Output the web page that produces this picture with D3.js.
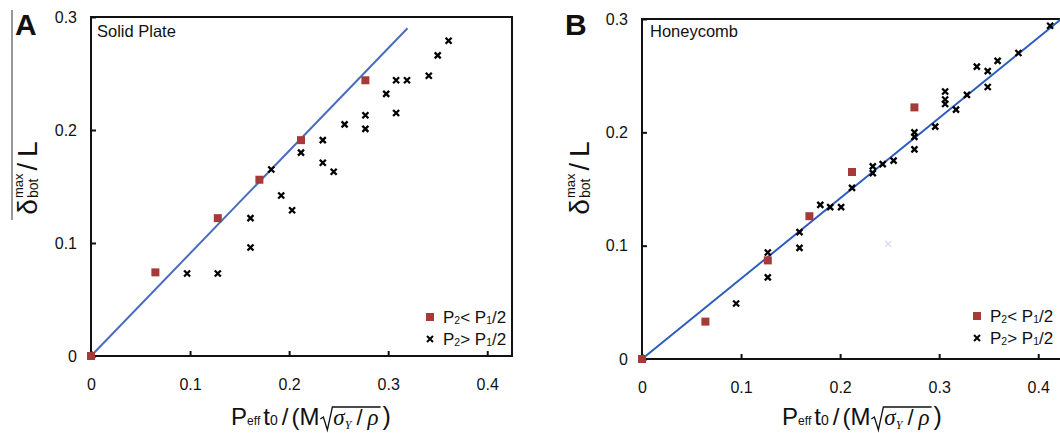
<!DOCTYPE html>
<html><head><meta charset="utf-8">
<script src="https://cdn.jsdelivr.net/npm/d3@7"></script>
<style>
body{margin:0;background:#fff}
svg{display:block}
text{font-family:"Liberation Sans",Arial,sans-serif;fill:#111}
</style>
</head><body>
<svg id="c" width="1060" height="433"></svg>
<script>
// ---- data ----
const xTicks = [0, 0.1, 0.2, 0.3, 0.4];
const yTicks = [0, 0.1, 0.2, 0.3];
const panelLetters = ["A", "B"];
const panelTitles = ["Solid Plate", "Honeycomb"];
const legendLabels = [["P", "2", "< P", "1", "/2"], ["P", "2", "> P", "1", "/2"]];

const solidLow = [[0,0],[0.065,0.074],[0.128,0.122],[0.170,0.156],[0.212,0.191],[0.277,0.244]];
const solidHigh = [[0.097,0.073],[0.128,0.073],[0.161,0.096],[0.161,0.122],[0.182,0.165],[0.192,0.142],
  [0.203,0.129],[0.212,0.180],[0.234,0.191],[0.234,0.171],[0.245,0.163],[0.256,0.205],[0.277,0.213],
  [0.277,0.201],[0.298,0.232],[0.308,0.244],[0.308,0.215],[0.319,0.244],[0.341,0.248],[0.350,0.266],[0.361,0.279]];
const solidFit = [[0,0],[0.3195,0.290]];

const honeyLow = [[0,0],[0.064,0.033],[0.127,0.087],[0.169,0.126],[0.212,0.165],[0.275,0.222]];
const honeyHigh = [[0.095,0.049],[0.127,0.072],[0.127,0.094],[0.159,0.098],[0.159,0.112],[0.180,0.136],
  [0.190,0.134],[0.201,0.134],[0.212,0.151],[0.233,0.170],[0.233,0.164],[0.243,0.172],[0.254,0.175],
  [0.275,0.185],[0.275,0.200],[0.275,0.196],[0.296,0.205],[0.306,0.236],[0.306,0.229],[0.306,0.225],
  [0.317,0.220],[0.328,0.233],[0.338,0.258],[0.349,0.254],[0.349,0.240],[0.359,0.263],[0.380,0.270],[0.412,0.294]];
const honeyFaint = [[0.2485,0.1016]];
const honeyFit = [[0,0],[0.4232,0.300]];

// ---- layout ----
const svg = d3.select("#c");
const layouts = [
  {left:91, right:512, top:17, bottom:356, low:solidLow, high:solidHigh, faint:[], fit:solidFit,
   fitColor:"#4a6cc0", letterX:15, titleX:97, ylabX:37, legX:430, legY:317, artifact:true},
  {left:642, right:1063, top:19, bottom:359, low:honeyLow, high:honeyHigh, faint:honeyFaint, fit:honeyFit,
   fitColor:"#2c5cbd", letterX:565, titleX:650, ylabX:589, legX:977, legY:316, artifact:false}
];
const RED = "#a63a38";
const crossPath = "M-3,-3L3,3M-3,3L3,-3";

function fmt(d){ return d === 0 ? "0" : d3.format(".1f")(d); }

function xLabel(g, cx, baseline){
  const grp = g.append("g");
  let x = 0;
  function add(str, size, o){
    o = o || {};
    const t = grp.append("text").attr("x", x).attr("y", o.dy || 0).style("font-size", size + "px").text(str);
    if (o.italic) t.style("font-style","italic").style("font-family","'Liberation Serif','DejaVu Serif',serif");
    x += t.node().getComputedTextLength();
  }
  add("P",24); add("eff",12); x += 3; add("t",24); add("0",14); x += 4; add("/",24); x += 3; add("(M",24);
  const rx = x + 1;
  x += 14;
  add("σ",23,{italic:true}); add("Υ",12,{dy:4,italic:true}); x += 5; add("/",22); x += 5; add("ρ",23,{italic:true});
  const ex = x + 2;
  grp.append("path").attr("d", `M${rx},-6L${rx+3},-8L${rx+7},5L${rx+12},-18L${ex},-18`)
     .attr("fill","none").attr("stroke","#111").attr("stroke-width",1.3);
  x += 4; add(")",25);
  grp.attr("transform", `translate(${cx - x/2},${baseline})`);
}

function yLabel(g, bx, cy){
  const grp = g.append("g");
  let x = 0;
  function add(str, size, dy, adv){
    const t = grp.append("text").attr("x", x).attr("y", dy).style("font-size", size + "px").text(str);
    const w = t.node().getComputedTextLength();
    if (adv) x += w;
    return w;
  }
  add("δ",28,0,true);
  x += 1;
  const w1 = add("bot",14,1,false);
  const w2 = add("max",13,-14,false);
  x += Math.max(w1,w2) + 3;
  add("/",27,0,true); x += 6;
  add("L",28,0,true);
  grp.attr("transform", `translate(${bx},${cy}) rotate(-90) translate(${-x/2},0)`);
}

layouts.forEach((L, i) => {
  const g = svg.append("g");
  const xs = d3.scaleLinear().domain([0, 0.425]).range([L.left, L.right]);
  const ys = d3.scaleLinear().domain([0, 0.3]).range([L.bottom, L.top]);

  // frame
  g.append("rect").attr("x", L.left).attr("y", L.top).attr("width", L.right - L.left).attr("height", L.bottom - L.top)
    .attr("fill","none").attr("stroke","#111").attr("stroke-width",2);

  // axes
  const xa = g.append("g").attr("transform", `translate(0,${L.bottom})`)
    .call(d3.axisBottom(xs).tickValues(xTicks).tickFormat(fmt).tickSizeInner(-5).tickSizeOuter(0).tickPadding(23));
  const ya = g.append("g").attr("transform", `translate(${L.left},0)`)
    .call(d3.axisLeft(ys).tickValues(yTicks).tickFormat(fmt).tickSizeInner(-5).tickSizeOuter(0).tickPadding(14));
  [xa, ya].forEach(a => {
    a.select(".domain").remove();
    a.selectAll("line").attr("stroke","#111").attr("stroke-width",2);
    a.selectAll("text").style("font-size","16px").style("font-family",'"Liberation Sans",Arial,sans-serif').attr("fill","#111");
  });

  // fit line
  g.append("line").attr("x1", xs(L.fit[0][0])).attr("y1", ys(L.fit[0][1]))
    .attr("x2", xs(L.fit[1][0])).attr("y2", ys(L.fit[1][1]))
    .attr("stroke", L.fitColor).attr("stroke-width", 2);

  // points
  g.selectAll(".hi").data(L.high).enter().append("path").attr("d", crossPath)
    .attr("transform", d => `translate(${xs(d[0])},${ys(d[1])})`)
    .attr("stroke","#000").attr("stroke-width",2.3).attr("fill","none");
  g.selectAll(".fa").data(L.faint).enter().append("path").attr("d", crossPath)
    .attr("transform", d => `translate(${xs(d[0])},${ys(d[1])})`)
    .attr("stroke","#cdd8ee").attr("stroke-width",1.2).attr("fill","none");
  g.selectAll(".lo").data(L.low).enter().append("rect")
    .attr("x", d => xs(d[0]) - 4).attr("y", d => ys(d[1]) - 4).attr("width", 8).attr("height", 8).attr("fill", RED);

  // letter and title
  g.append("text").attr("x", L.letterX).attr("y", 35).style("font-size","30px").style("font-weight","bold").text(panelLetters[i]);
  g.append("text").attr("x", L.titleX).attr("y", 37).style("font-size","16.5px").text(panelTitles[i]);

  // legend
  legendLabels.forEach((parts, k) => {
    const cy = L.legY + k * 22;
    if (k === 0) g.append("rect").attr("x", L.legX - 4).attr("y", cy - 4).attr("width", 8).attr("height", 8).attr("fill", RED);
    else g.append("path").attr("d", crossPath).attr("transform", `translate(${L.legX},${cy})`)
      .attr("stroke","#000").attr("stroke-width",2).attr("fill","none");
    const t = g.append("text").attr("x", L.legX + 13).attr("y", cy + 6).style("font-size","17px");
    parts.forEach((p, j) => {
      const sub = (j === 1 || j === 3);
      t.append("tspan").style("font-size", sub ? "10.5px" : "17px").attr("dy", sub ? 1 : (j > 0 ? -1 : 0)).text(p);
    });
  });

  // axis titles
  xLabel(g, L.left + 220, 425);
  yLabel(g, L.ylabX, 178);

  if (L.artifact) g.append("line").attr("x1",12).attr("x2",12).attr("y1",10).attr("y2",220).attr("stroke","#333").attr("stroke-width",1);
});
</script>
</body></html>
